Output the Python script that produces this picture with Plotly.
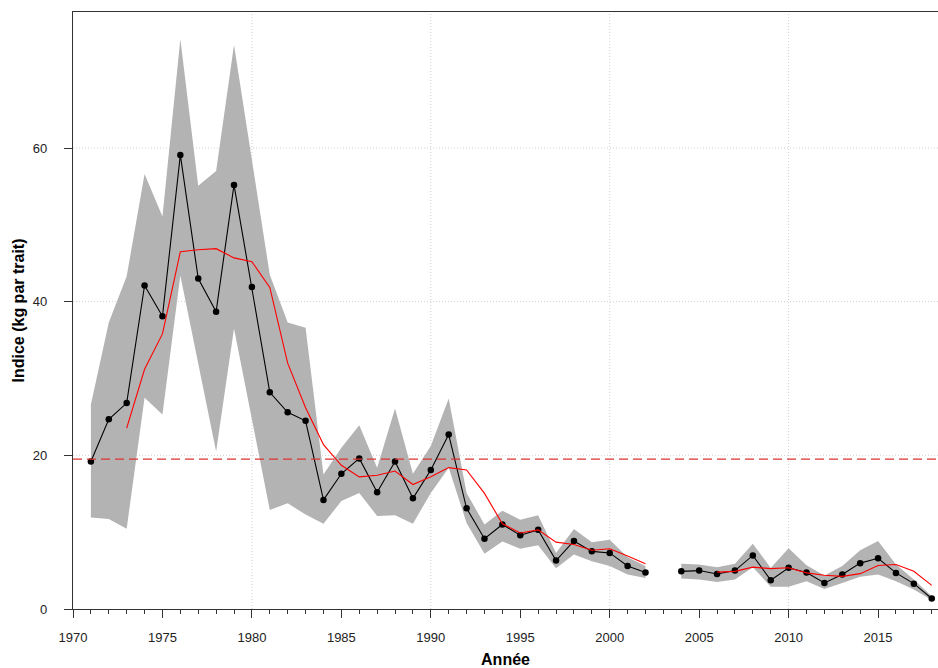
import plotly.graph_objects as go

years = list(range(1971, 2019))

# Index (kg per tow); None = no survey (2003)
index = [19.2, 24.7, 26.8, 42.1, 38.1, 59.1, 43.0, 38.7, 55.2, 41.9,
         28.2, 25.6, 24.5, 14.2, 17.6, 19.6, 15.2, 19.2, 14.4, 18.1,
         22.7, 13.1, 9.15, 11.0, 9.6, 10.3, 6.3, 8.85, 7.5, 7.3,
         5.6, 4.75, None, 4.9, 5.0, 4.55, 5.0, 6.97, 3.75, 5.37,
         4.75, 3.4, 4.5, 5.97, 6.6, 4.7, 3.3, 1.37]

upper = [26.6, 37.3, 43.3, 56.6, 51.1, 74.2, 55.1, 57.0, 73.4, 58.4,
         43.5, 37.3, 36.6, 17.5, 21.0, 23.9, 18.4, 26.1, 17.6, 21.2,
         27.4, 15.1, 11.0, 12.8, 11.6, 12.2, 7.3, 10.4, 8.7, 9.0,
         6.75, 5.6, None, 5.9, 5.8, 5.45, 5.9, 8.5, 5.35, 7.9,
         5.7, 4.35, 5.6, 7.65, 8.85, 5.8, 3.85, 1.67]

lower = [11.9, 11.7, 10.45, 27.5, 25.3, 43.4, 31.8, 20.5, 36.5, 24.5,
         12.9, 13.75, 12.3, 11.1, 14.05, 15.1, 12.1, 12.2, 11.1, 15.1,
         18.4, 11.2, 7.2, 8.8, 7.85, 8.3, 5.3, 7.1, 6.2, 5.6,
         4.5, 4.05, None, 3.97, 3.85, 3.5, 3.85, 5.45, 2.9, 2.9,
         3.6, 2.6, 3.4, 4.2, 4.5, 3.6, 2.55, 1.15]

# 3-year running mean (red line)
smooth = [None, None, 23.55, 31.2, 35.8, 46.5, 46.75, 46.9, 45.7, 45.2,
          41.85, 32.0, 26.2, 21.4, 18.7, 17.2, 17.4, 17.95, 16.2, 17.2,
          18.4, 18.1, 15.05, 11.1, 9.9, 10.3, 8.7, 8.4, 7.65, 7.85,
          6.9, 5.9, None, None, None, 4.8, 4.9, 5.45, 5.25, 5.37,
          4.7, 4.4, 4.25, 4.6, 5.67, 5.8, 4.9, 3.08]

reference_level = 19.5
grid_years = [1980, 1990, 2000, 2010]
grid_values = [20, 40, 60]

x_range = [1970, 2018.35]
y_range = [0, 77.7]

fig = go.Figure()

# Confidence band: one polygon per contiguous segment
segments = []
cur = []
for i, y in enumerate(years):
    if upper[i] is None:
        if cur:
            segments.append(cur)
        cur = []
    else:
        cur.append(i)
if cur:
    segments.append(cur)

for seg in segments:
    xs = [years[i] for i in seg] + [years[i] for i in reversed(seg)]
    ys = [upper[i] for i in seg] + [lower[i] for i in reversed(seg)]
    fig.add_trace(go.Scatter(x=xs, y=ys, fill="toself", fillcolor="#B3B3B3",
                             line=dict(width=0, color="#B3B3B3"), mode="lines",
                             hoverinfo="skip", showlegend=False))

for gy in grid_years:
    fig.add_vline(x=gy, line=dict(color="#D0D0D0", width=1, dash="1px,2px"), layer="below")
for gv in grid_values:
    fig.add_hline(y=gv, line=dict(color="#D0D0D0", width=1, dash="1px,2px"), layer="below")

fig.add_trace(go.Scatter(x=years, y=index, mode="lines+markers",
                         line=dict(color="black", width=1.1),
                         marker=dict(color="black", size=6.5),
                         connectgaps=False, showlegend=False))

fig.add_trace(go.Scatter(x=years, y=smooth, mode="lines",
                         line=dict(color="#FF0000", width=1.1),
                         connectgaps=False, showlegend=False))

fig.add_hline(y=reference_level, line=dict(color="#DD3333", width=1.2, dash="9px,5px"))

axis_font = dict(family="Liberation Sans, Arial, sans-serif", size=13, color="#222222")
title_font = dict(family="Liberation Sans, Arial, sans-serif", size=16, color="black")

fig.update_layout(
    width=938, height=668,
    margin=dict(l=73, r=0, t=12, b=59),
    paper_bgcolor="white", plot_bgcolor="white",
    showlegend=False,
    xaxis=dict(range=x_range, tickmode="linear", tick0=1970, dtick=5,
               showgrid=False, zeroline=False,
               showline=True, linecolor="#333333", linewidth=1.2, mirror=True,
               ticks="outside", ticklen=8, tickwidth=1.2, tickcolor="#333333",
               minor=dict(dtick=1, tick0=1970, ticks="outside", ticklen=4,
                          tickwidth=1, tickcolor="#333333", showgrid=False),
               tickfont=axis_font, ticklabelstandoff=8,
               title=dict(text="<b>Année</b>", font=title_font, standoff=11)),
    yaxis=dict(range=y_range, tickmode="array", tickvals=[0, 20, 40, 60],
               showgrid=False, zeroline=False,
               showline=True, linecolor="#333333", linewidth=1.2,
               ticks="outside", ticklen=8, tickwidth=1.2, tickcolor="#333333",
               tickfont=axis_font, ticklabelstandoff=14,
               title=dict(text="<b>Indice (kg par trait)</b>", font=title_font, standoff=4)),
)

fig.write_html("out.html", config={"displayModeBar": False},
               post_script="document.body.style.margin='0';document.body.style.overflow='hidden';")
